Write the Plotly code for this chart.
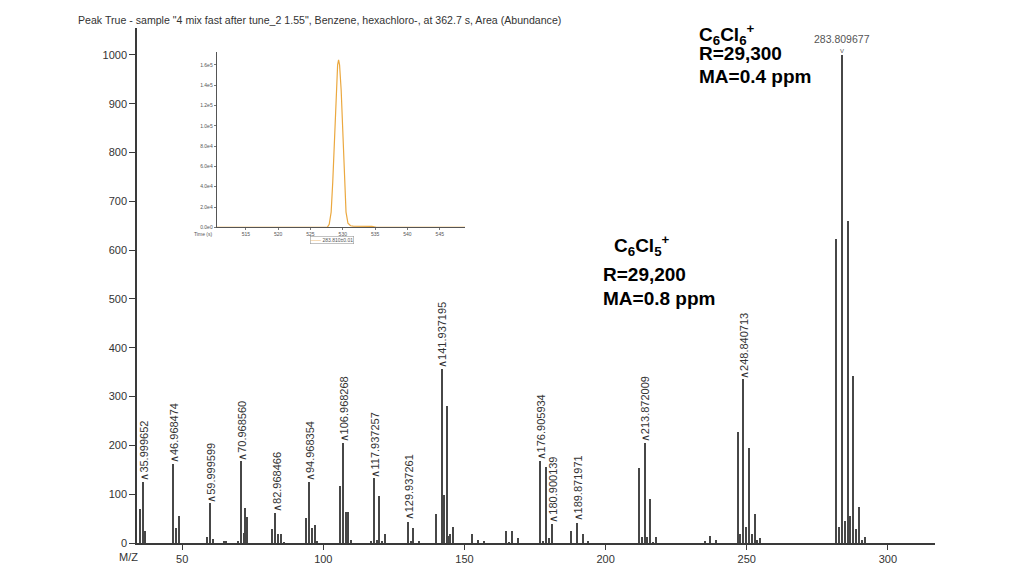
import plotly.graph_objects as go

# ---------------- data ----------------
mz = [35.0, 35.999652, 37.0, 46.968474, 47.98, 48.97, 59.0, 59.999599, 61.0, 64.8, 65.5,
      70.0, 70.968560, 71.9, 72.3, 73.0, 81.97, 82.968466, 83.97, 84.97, 86.0,
      93.97, 94.968354, 95.97, 96.97, 97.97, 105.97, 106.968268, 107.97, 108.97, 109.97,
      116.94, 117.937257, 118.94, 119.94, 120.94, 121.94, 129.937261, 130.94, 131.94, 133.94,
      139.94, 141.937195, 142.94, 143.94, 144.75, 145.0, 145.94, 152.9, 154.9, 156.9,
      164.9, 165.9, 166.9, 168.9, 176.905934, 177.9, 178.9, 179.9, 180.900139,
      187.9, 189.871971, 191.87, 193.9, 211.87, 212.87, 213.872009, 214.87, 215.87, 216.87, 217.87,
      235.2, 237.2, 239.2, 246.84, 247.84, 248.840713, 249.84, 250.84, 251.84, 252.84, 253.84, 254.84,
      281.81, 282.81, 283.809677, 284.81, 285.81, 286.81, 287.80, 288.80, 289.80, 290.8, 291.8]
abundance = [69, 125, 25, 161, 31, 55, 12, 81, 8, 4, 4,
             3, 167, 21, 72, 53, 29, 62, 19, 19, 2,
             51, 125, 30, 37, 4, 117, 204, 63, 63, 7,
             5, 133, 6, 97, 3, 18, 44, 3, 30, 5,
             59, 356, 98, 281, 14, 18, 33, 18, 6, 4,
             25, 2, 25, 11, 168, 4, 155, 11, 39,
             25, 42, 19, 4, 153, 13, 204, 12, 90, 2, 12,
             4, 15, 6, 227, 18, 335, 33, 194, 18, 59, 6, 10,
             622, 32, 1000, 45, 660, 55, 342, 28, 73, 6, 12]

peak_labels = ["35.999652", "46.968474", "59.999599", "70.968560", "82.968466", "94.968354",
               "106.968268", "117.937257", "129.937261", "141.937195", "176.905934",
               "180.900139", "189.871971", "213.872009", "248.840713"]
top_label = "283.809677"

x_ticks = [50, 100, 150, 200, 250, 300]
y_ticks = [0, 100, 200, 300, 400, 500, 600, 700, 800, 900, 1000]

# inset chromatogram (extracted ion 283.810±0.01)
inset_time = [510.5, 527.6, 527.9, 528.2, 528.45, 528.7, 528.95, 529.2, 529.35, 529.5, 529.75,
              530.0, 530.25, 530.5, 530.8, 531.2, 531.6, 532.5, 533.5, 534.5, 535.2, 548.9]
inset_signal = [0, 0, 3000, 15000, 45000, 90000, 135000, 160000, 165000, 160000, 135000,
                90000, 45000, 15000, 4000, 1500, 1200, 1100, 1000, 900, 0, 0]
inset_xticks = [515, 520, 525, 530, 535, 540, 545]
inset_xticktext = ["515", "520", "525", "530", "535", "540", "545"]
inset_yticks = [0, 20000, 40000, 60000, 80000, 100000, 120000, 140000, 160000]
inset_yticktext = ["0.0e0", "2.0e4", "4.0e4", "6.0e4", "8.0e4", "1.0e5", "1.2e5", "1.4e5", "1.6e5"]

title_text = 'Peak True - sample "4 mix fast after tune_2 1.55", Benzene, hexachloro-, at 362.7 s, Area (Abundance)'

# ---------------- geometry (reference pixels; page body has an 8px margin) ----------------
OFF = 8
W, H = 1024 - OFF, 576 - OFF
L, R, T, B = 137, 935, 28, 543          # plot area in window pixels
def px(p):
    return (p - L) / (R - L)
def py(p):
    return (B - p) / (B - T)

AX = "#3a3a3a"
FONT = "Liberation Sans"

fig = go.Figure()
fig.add_trace(go.Bar(x=mz, y=abundance, width=0.45, marker=dict(color="#474747", line=dict(width=0)),
                     showlegend=False, hoverinfo="x+y"))
fig.add_trace(go.Scatter(x=inset_time, y=inset_signal, mode="lines", xaxis="x2", yaxis="y2",
                         line=dict(color="#EBA83F", width=1.2), showlegend=False))

ann = []
lookup = dict(zip(mz, abundance))
for lab in peak_labels:
    xv = float(lab)
    yv = lookup[xv]
    # rotated label; the up-chevron turns into a left-pointing "<" after rotation
    ann.append(dict(x=xv, y=yv, xref="x", yref="y", text="\u2227" + lab, showarrow=False, textangle=-90,
                    xanchor="center", yanchor="bottom", xshift=1, yshift=-1,
                    font=dict(family=FONT, size=11, color="#333")))
xv_top = float(top_label)
ann.append(dict(x=xv_top, y=lookup[xv_top], xref="x", yref="y", text=top_label, showarrow=False,
                xanchor="center", yanchor="bottom", yshift=8,
                font=dict(family=FONT, size=10.5, color="#555")))
ann.append(dict(x=xv_top, y=lookup[xv_top], xref="x", yref="y", text="v", showarrow=False,
                xanchor="center", yanchor="bottom", yshift=-2,
                font=dict(family=FONT, size=8, color="#777")))

# title
ann.append(dict(x=px(76), y=py(20), xref="paper", yref="paper", text=title_text, showarrow=False,
                xanchor="left", yanchor="middle", font=dict(family=FONT, size=10.6, color="#333")))
# M/Z label
ann.append(dict(x=px(128), y=py(557), xref="paper", yref="paper", text="M/Z", showarrow=False,
                xanchor="center", yanchor="middle", font=dict(family=FONT, size=11, color="#333")))

# formula annotations
BF = dict(family="Liberation Sans", size=19, color="#000")
def fa(xp, yp, t):
    ann.append(dict(x=px(xp), y=py(yp), xref="paper", yref="paper", text=t, showarrow=False,
                    xanchor="left", yanchor="middle", font=BF))
fa(697, 35, "<b>C<sub>6</sub>Cl<sub>6</sub><sup>+</sup></b>")
fa(697, 53.5, "<b>R=29,300</b>")
fa(697, 76.5, "<b>MA=0.4 ppm</b>")
fa(612, 245, "<b>C<sub>6</sub>Cl<sub>5</sub><sup>+</sup></b>")
fa(601, 274.5, "<b>R=29,200</b>")
fa(601, 298, "<b>MA=0.8 ppm</b>")

# inset extras
ann.append(dict(x=px(203), y=py(234), xref="paper", yref="paper", text="Time (s)", showarrow=False,
                xanchor="center", yanchor="middle", font=dict(family=FONT, size=5, color="#555")))
ann.append(dict(x=px(332), y=py(240), xref="paper", yref="paper",
                text="<span style='color:#EBA83F'>\u2014\u2014</span> 283.810\u00b10.01", showarrow=False,
                xanchor="center", yanchor="middle", bordercolor="#999", borderwidth=0.6, borderpad=0.5,
                font=dict(family=FONT, size=5, color="#555")))

fig.update_layout(
    width=W, height=H,
    margin=dict(l=L - OFF, r=1024 - R, t=T - OFF, b=576 - B),
    paper_bgcolor="white", plot_bgcolor="white",
    bargap=0, showlegend=False,
    xaxis=dict(range=[34, 316.7], tickvals=x_ticks, showgrid=False, zeroline=False,
               showline=True, linecolor=AX, linewidth=1.5, ticks="outside", ticklen=5,
               tickcolor=AX, tickwidth=1, tickfont=dict(family=FONT, size=11, color="#333")),
    yaxis=dict(range=[0, 1055], tickvals=y_ticks, showgrid=False, zeroline=False,
               showline=True, linecolor=AX, linewidth=1.5, ticks="outside", ticklen=6,
               tickcolor=AX, tickwidth=1, tickfont=dict(family=FONT, size=11, color="#333")),
    xaxis2=dict(domain=[px(216.7), px(465)], anchor="y2", range=[510.5, 548.9],
                tickvals=inset_xticks, ticktext=inset_xticktext, showgrid=False, zeroline=False,
                showline=True, linecolor="#555", linewidth=1, ticks="outside", ticklen=2,
                tickcolor="#777", tickfont=dict(family=FONT, size=5, color="#555")),
    yaxis2=dict(domain=[py(227.3), py(51.7)], anchor="x2", range=[0, 173000],
                tickvals=inset_yticks, ticktext=inset_yticktext, showgrid=False, zeroline=False,
                showline=True, linecolor="#555", linewidth=1, ticks="outside", ticklen=2,
                tickcolor="#777", tickfont=dict(family=FONT, size=5, color="#555")),
    annotations=ann,
)

fig.write_html("out.html")
